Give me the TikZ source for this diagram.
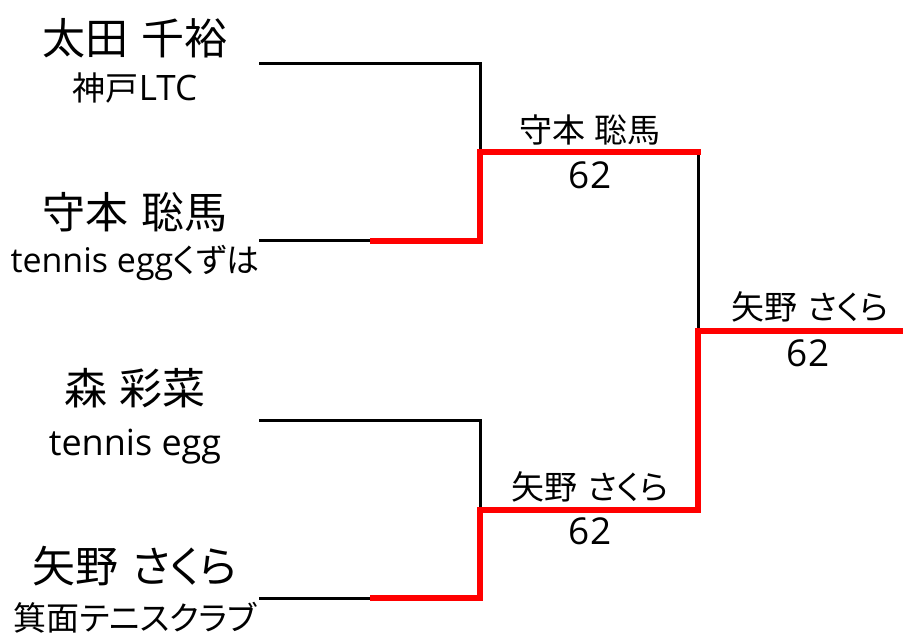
\documentclass[tikz,border=0pt]{standalone}
\usepackage{fontspec}
\setmainfont{Open Sans}
\newfontfamily\jp[RawFeature=+palt]{Noto Sans CJK JP}
\newcommand{\gap}{\hspace{0.3em}}
\begin{document}
\begin{tikzpicture}[x=1pt,y=-1pt,
  nm/.style={inner sep=0pt,anchor=center,font=\fontsize{43}{43}\selectfont\jp},
  club/.style={inner sep=0pt,anchor=center,font=\fontsize{33}{33}\selectfont\jp},
  win/.style={inner sep=0pt,anchor=center,font=\fontsize{33}{33}\selectfont\jp},
  score/.style={inner sep=0pt,anchor=center,font=\fontsize{37}{37}\selectfont},
  bline/.style={line width=3pt,black,line cap=butt,line join=miter},
  rline/.style={line width=6pt,red,line cap=butt,line join=miter}]
\useasboundingbox (0,0) rectangle (903,639);
% players
\node[nm]   (n1) at (135,38)  {太田\gap 千裕};
\node[club] (c1) at (135,88)  {神戸{\fontsize{35}{35}\selectfont\rmfamily LTC}};
\node[nm]   (n2) at (135,212) {守本\gap 聡馬};
\node[club] (c2) at (135,263) {{\fontsize{34}{34}\selectfont\rmfamily tennis egg}くずは};
\node[nm]   (n3) at (135,388) {森\gap 彩菜};
\node[club] (c3) at (135,447) {{\fontsize{36}{36}\selectfont\rmfamily tennis egg}};
\node[nm]   (n4) at (135,566) {矢野\gap さくら};
\node[club] (c4) at (135,618) {箕面テニスクラブ};
% winners
\node[win]   (w1) at (590,130) {守本\gap 聡馬};
\node[score] (r1) at (590,175) {62};
\node[win]   (w2) at (590,487) {矢野\gap さくら};
\node[score] (r2) at (590,531) {62};
\node[win]   (w3) at (810,307) {矢野\gap さくら};
\node[score] (r3) at (808,353) {62};
% bracket points
\coordinate (a1) at (259,64);
\coordinate (a2) at (259,241);
\coordinate (a2r) at (370,241);
\coordinate (s1) at (480,152);
\coordinate (s1e) at (701,152);
\coordinate (a3) at (259,420);
\coordinate (a4) at (259,598);
\coordinate (a4r) at (370,598);
\coordinate (s2) at (480,510);
\coordinate (s2e) at (698,510);
\coordinate (fj) at (698,331);
\coordinate (fv) at (698,152);
\coordinate (fe) at (903,331);
% black lines
\draw[bline] (a1) -| (s1);
\draw[bline] (a2) -- (a2r);
\draw[bline] (fv) -- (fj);
\draw[bline] (a3) -| (s2);
\draw[bline] (a4) -- (a4r);
% red winner paths
\draw[rline] (a2r) -| (s1) -- (s1e);
\draw[rline] (a4r) -| (s2) -- (s2e) -- (fj) -- (fe);
\end{tikzpicture}
\end{document}
